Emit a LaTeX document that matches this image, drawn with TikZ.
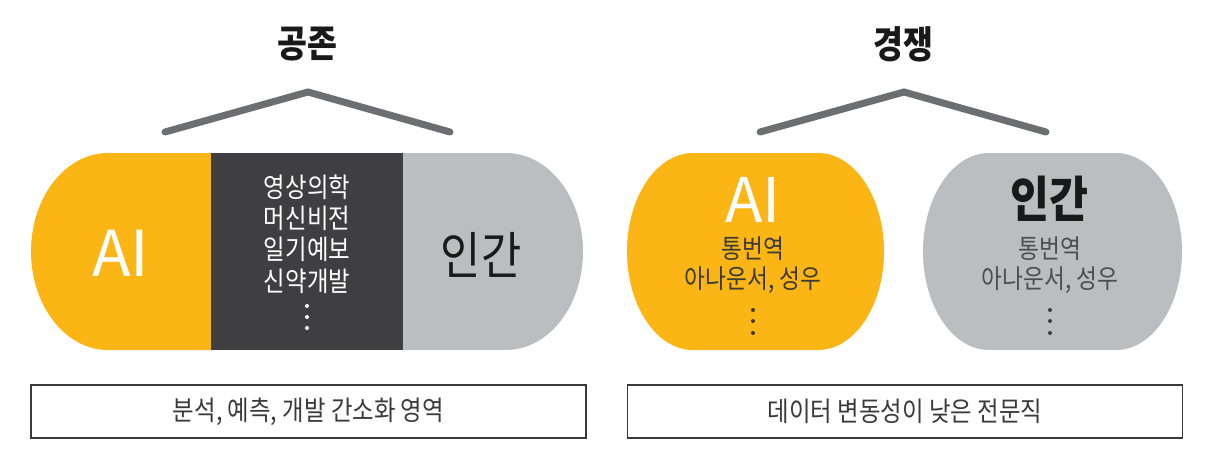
\documentclass[tikz,border=0pt]{standalone}
\usepackage{fontspec}
\setmainfont{Noto Sans CJK KR}
\newfontfamily\krnarrow[FakeStretch=0.86]{Noto Sans CJK KR}

\definecolor{aiorange}{HTML}{FBB615}
\definecolor{midgrey}{HTML}{3F3F41}
\definecolor{humangrey}{HTML}{BCBDC0}
\definecolor{roofgrey}{HTML}{6D6E71}
\definecolor{inkgrey}{HTML}{3A3A3A}

\tikzset{
  roof/.style={draw=roofgrey, line width=0.14cm, line cap=round},
  title/.style={font=\krnarrow\fontsize{21.5}{26}\selectfont\bfseries, text=black!90},
  footbox/.style={draw=inkgrey, line width=0.7pt, minimum width=11.1cm,
    minimum height=1.06cm, inner sep=0pt, font=\krnarrow\fontsize{15.5}{18}\selectfont, text=inkgrey},
  dot/.style={fill=inkgrey, circle, inner sep=0pt, minimum size=0.08cm}
}

\begin{document}
\begin{tikzpicture}[x=0.02cm,y=-0.02cm]
  \useasboundingbox (0,0) rectangle (1214,467);

  % titles and roofs
  \node[title] (T1) at (307,44) {공존};
  \node[title] (T2) at (903,44) {경쟁};
  \coordinate (R1a) at (165,132);
  \coordinate (R1b) at (308,92);
  \coordinate (R1c) at (450,132);
  \coordinate (R2a) at (760,132);
  \coordinate (R2b) at (904,92);
  \coordinate (R2c) at (1046,132);
  \draw[roof] (R1a) -- (R1b) -- (R1c);
  \draw[roof] (R2a) -- (R2b) -- (R2c);

  % coexistence pill
  \fill[aiorange] (212,153) -- (108,153) arc[start angle=270, end angle=90, x radius=77, y radius=98.5] -- (212,350) -- cycle;
  \fill[midgrey] (211,153) rectangle (403,350);
  \fill[humangrey] (403,153) -- (506,153) arc[start angle=270, end angle=450, x radius=77, y radius=98.5] -- (403,350) -- cycle;

  \node[text=white, font=\fontsize{36}{42}\selectfont] (A1) at (121,253) {AI};
  \node[text=white, align=center, font=\krnarrow\fontsize{15.5}{17.9}\selectfont] (M1) at (307,234) {영상의학\\머신비전\\일기예보\\신약개발};
  \node[text=black!90, font=\krnarrow\fontsize{29}{34}\selectfont] (H1) at (481,255) {인간};
  \node[dot, fill=white] (M1d1) at (307,306) {};
  \node[dot, fill=white] (M1d2) at (307,317) {};
  \node[dot, fill=white] (M1d3) at (307,328) {};

  % competition blobs
  \fill[aiorange] (693,153) -- (818,153)
    arc[start angle=270, end angle=360, x radius=66, y radius=98.5]
    arc[start angle=0, end angle=90, x radius=66, y radius=98.5] -- (693,350)
    arc[start angle=90, end angle=180, x radius=66, y radius=98.5]
    arc[start angle=180, end angle=270, x radius=66, y radius=98.5] -- cycle;
  \fill[humangrey] (989,153) -- (1116,153)
    arc[start angle=270, end angle=360, x radius=66, y radius=98.5]
    arc[start angle=0, end angle=90, x radius=66, y radius=98.5] -- (989,350)
    arc[start angle=90, end angle=180, x radius=66, y radius=98.5]
    arc[start angle=180, end angle=270, x radius=66, y radius=98.5] -- cycle;

  \node[text=white, font=\fontsize{35}{40}\selectfont] (A2) at (753,200) {AI};
  \node[text=inkgrey, align=center, font=\krnarrow\fontsize{15}{17}\selectfont] (J2) at (753,265) {통번역\\아나운서, 성우};
  \node[dot] (A2d1) at (753,310) {};
  \node[dot] (A2d2) at (753,321) {};
  \node[dot] (A2d3) at (753,333) {};

  \node[text=black!90, font=\krnarrow\fontsize{28}{34}\selectfont\bfseries] (H2) at (1049,199) {인간};
  \node[text=inkgrey!90, align=center, font=\krnarrow\fontsize{15}{17}\selectfont] (J3) at (1050,265) {통번역\\아나운서, 성우};
  \node[dot] (H2d1) at (1050,310) {};
  \node[dot] (H2d2) at (1050,321) {};
  \node[dot] (H2d3) at (1050,333) {};

  % footers
  \node[footbox] (F1) at (308.5,411.5) {분석, 예측, 개발 간소화 영역};
  \node[footbox] (F2) at (905,411.5) {데이터 변동성이 낮은 전문직};
\end{tikzpicture}
\end{document}
